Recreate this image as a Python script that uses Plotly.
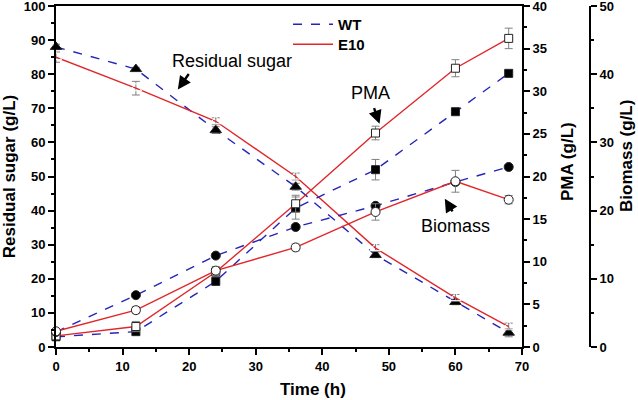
import plotly.graph_objects as go

time = [0, 12, 24, 36, 48, 60, 68]
sugar_wt = [88, 81.5, 63.6, 47.0, 27.0, 13.2, 4.2]
sugar_e10 = [85, 75.9, 66.2, 50.0, 29.0, 14.4, 6.0]
sugar_wt_err = [0.8, 0.5, 1.0, 1.0, 0.8, 0.8, 1.2]
sugar_e10_err = [1.5, 2.0, 1.0, 1.0, 1.0, 1.0, 1.0]
pma_wt = [1.2, 1.8, 7.7, 16.3, 20.8, 27.6, 32.1]
pma_e10 = [1.3, 2.4, 8.8, 16.8, 25.1, 32.7, 36.2]
pma_wt_err = [0.2, 0.2, 0.3, 1.3, 1.2, 0.3, 0.3]
pma_e10_err = [0.3, 0.6, 0.5, 1.0, 0.8, 1.0, 1.2]
biomass_wt = [2.2, 7.6, 13.4, 17.6, 20.7, 24.2, 26.4]
biomass_e10 = [2.3, 5.4, 11.2, 14.6, 19.8, 24.3, 21.6]
biomass_wt_err = [0.2, 0.2, 0.3, 0.3, 0.3, 0.3, 0.3]
biomass_e10_err = [0.4, 0.5, 0.6, 0.5, 1.2, 1.6, 0.6]

BLUE = "#2424b8"
RED = "#e0262a"
GRAY = "#808080"
FONT = "Liberation Sans, Arial, sans-serif"

fig = go.Figure()

def add(y, err, axis, color, dash, symbol, filled, size):
    fig.add_trace(go.Scatter(
        x=time, y=y, yaxis=axis, mode="lines+markers", showlegend=False,
        cliponaxis=False,
        line=dict(color=color, width=1.4, dash=dash),
        marker=dict(symbol=symbol, size=size,
                    color="black" if filled else "white",
                    line=dict(color="#222222", width=1)),
        error_y=dict(type="data", array=err, color=GRAY, thickness=1, width=4),
    ))

add(sugar_wt, sugar_wt_err, "y", BLUE, "dash", "triangle-up", True, 10)
add(sugar_e10, sugar_e10_err, "y", RED, "solid", "triangle-up-open", False, 10)
add(pma_wt, pma_wt_err, "y2", BLUE, "dash", "square", True, 8)
add(pma_e10, pma_e10_err, "y2", RED, "solid", "square", False, 8)
add(biomass_wt, biomass_wt_err, "y3", BLUE, "dash", "circle", True, 9)
add(biomass_e10, biomass_e10_err, "y3", RED, "solid", "circle", False, 9)

# legend-only traces
fig.add_trace(go.Scatter(x=[None], y=[None], mode="lines", name="WT", legend="legend",
                         line=dict(color=BLUE, width=1.6, dash="dash")))
fig.add_trace(go.Scatter(x=[None], y=[None], mode="lines", name="E10", legend="legend2",
                         line=dict(color=RED, width=1.6)))

tickfont = dict(family=FONT, size=13, color="black", weight="bold")
titlefont = dict(family=FONT, size=17, color="black", weight="bold")
common = dict(showline=True, linecolor="black", linewidth=2, ticks="outside",
              ticklen=6, tickwidth=1.5, tickcolor="black", showgrid=False,
              zeroline=False, tickfont=tickfont, automargin=False,
              ticklabeloverflow="allow")

L, R, T, B = 56, 48, 6, 53
W, H = 638, 400
pw = W - L - R
ph = H - T - B
xdom_end = (522 - L) / pw

def px_x(p):
    return (p - L) / pw

def px_y(p):
    return (H - B - p) / ph

legfont = dict(family=FONT, size=15, color="black", weight="bold")
fig.update_layout(
    width=W, height=H,
    margin=dict(l=L, r=R, t=T, b=B),
    paper_bgcolor="white", plot_bgcolor="white",
    xaxis=dict(range=[0, 70], domain=[0, xdom_end], dtick=10, mirror=True,
               minor=dict(dtick=5, ticklen=3, ticks="outside", tickcolor="black"),
               **common),
    yaxis=dict(range=[0, 100], dtick=10,
               minor=dict(dtick=5, ticklen=3, ticks="outside", tickcolor="black"),
               title=dict(text="Residual sugar (g/L)", font=titlefont, standoff=9), **common),
    yaxis2=dict(range=[0, 40], dtick=5, overlaying="y", side="right", anchor="x",
                minor=dict(dtick=2.5, ticklen=3, ticks="outside", tickcolor="black"),
                **common),
    yaxis3=dict(range=[0, 50], dtick=10, overlaying="y", side="right", anchor="free",
                position=1.0,
                minor=dict(dtick=5, ticklen=3, ticks="outside", tickcolor="black"),
                **common),
    legend=dict(x=px_x(288), y=px_y(8), xanchor="left", yanchor="top",
                bgcolor="rgba(0,0,0,0)", itemwidth=40, font=legfont),
    legend2=dict(x=px_x(288), y=px_y(28), xanchor="left", yanchor="top",
                 bgcolor="rgba(0,0,0,0)", itemwidth=40, font=legfont),
)

# axis titles placed like the reference
fig.add_annotation(x=px_x(313), y=px_y(390), xref="paper", yref="paper",
                   text="Time (h)", showarrow=False, yanchor="middle",
                   font=titlefont)
fig.add_annotation(x=px_x(567), y=px_y(162), xref="paper", yref="paper",
                   text="PMA (g/L)", showarrow=False, textangle=-90,
                   xanchor="center", yanchor="middle", font=titlefont)
fig.add_annotation(x=px_x(626), y=px_y(156), xref="paper", yref="paper",
                   text="Biomass (g/L)", showarrow=False, textangle=-90,
                   xanchor="center", yanchor="middle", font=titlefont)

annfont = dict(family=FONT, size=18, color="black")
# Residual sugar
fig.add_annotation(x=26.5, y=84.0, xref="x", yref="y", text="Residual sugar",
                   showarrow=False, font=annfont)
fig.add_annotation(x=18.3, y=75.5, ax=20.1, ay=80.5, xref="x", yref="y",
                   axref="x", ayref="y", text="", showarrow=True,
                   arrowhead=2, arrowsize=1.1, arrowwidth=2.4, arrowcolor="black")
# PMA
fig.add_annotation(x=47.3, y=74.5, xref="x", yref="y", text="PMA",
                   showarrow=False, font=annfont)
fig.add_annotation(x=48.6, y=65.5, ax=47.7, ay=70.5, xref="x", yref="y",
                   axref="x", ayref="y", text="", showarrow=True,
                   arrowhead=2, arrowsize=1.1, arrowwidth=2.4, arrowcolor="black")
# Biomass
fig.add_annotation(x=60, y=35.5, xref="x", yref="y", text="Biomass",
                   showarrow=False, font=annfont)
fig.add_annotation(x=58.4, y=43.5, ax=59.7, ay=39.3, xref="x", yref="y",
                   axref="x", ayref="y", text="", showarrow=True,
                   arrowhead=2, arrowsize=1.1, arrowwidth=2.4, arrowcolor="black")

fig.write_html("out.html", config={"displayModeBar": False},
               post_script="document.body.style.margin='0';document.body.style.overflow='hidden';")
